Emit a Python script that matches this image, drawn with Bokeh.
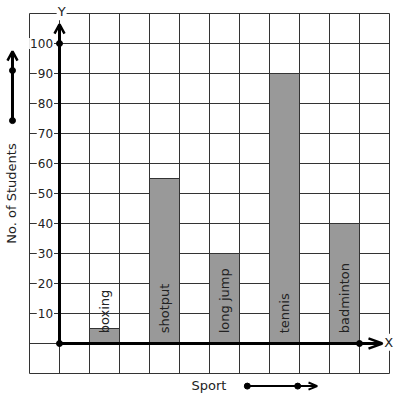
import math
from bokeh.plotting import figure
from bokeh.models import Range1d, ColumnDataSource
from bokeh.core.properties import value
from bokeh.embed import file_html
from bokeh.resources import INLINE

# ---- data ----
sports = ["boxing", "shotput", "long jump", "tennis", "badminton"]
students = [5, 55, 30, 90, 40]
y_ticks = [10, 20, 30, 40, 50, 60, 70, 80, 90, 100]
y_tick_labels = ["10", "20", "30", "40", "50", "60", "70", "80", "90", "100"]
x_title = "Sport"
y_title = "No. of Students"

FONT = value("DejaVu Sans")
GRID = "#333333"

p = figure(width=397, height=399, output_backend="svg", toolbar_location=None,
           x_range=Range1d(-59 / 30, -59 / 30 + 397 / 30),
           y_range=Range1d(-(399 - 343) / 3, 343 / 3),
           min_border=0)
p.axis.visible = False
p.grid.visible = False
p.outline_line_color = None
p.background_fill_color = "white"
p.border_fill_color = "white"

# graph-paper grid
gx = list(range(-1, 12))
gy = list(range(-10, 111, 10))
p.segment(x0=gx, y0=[-10] * len(gx), x1=gx, y1=[110] * len(gx),
          line_color=GRID, line_width=1)
p.segment(x0=[-1] * len(gy), y0=gy, x1=[11] * len(gy), y1=gy,
          line_color=GRID, line_width=1)

# bars
bar_x = [1.5 + 2 * i for i in range(len(sports))]
src = ColumnDataSource(dict(x=bar_x, top=students, name=sports))
p.vbar(x="x", top="top", bottom=0, width=1, source=src,
       fill_color="#999999", line_color="#333333", line_width=1)
p.text(x="x", y=3.4, text="name", source=src, angle=math.pi / 2,
       text_align="left", text_baseline="middle", text_font=FONT,
       text_font_size="13px", text_color="#222222")

# tick labels with white background
p.text(x=[-0.183] * len(y_ticks), y=y_ticks, text=y_tick_labels,
       text_align="right", text_baseline="middle", text_font=FONT,
       text_font_size="12px", text_color="#222222",
       background_fill_color="white", padding=1)

# axes with arrows
p.line([0, 0], [0, 106], line_color="black", line_width=3)
p.line([-0.167, 0, 0.167], [103.3, 106.4, 103.3], line_color="black", line_width=2.5)
p.line([0, 10.73], [0, 0], line_color="black", line_width=3)
p.line([10.3, 10.76, 10.3], [1.7, 0, -1.7], line_color="black", line_width=2.5)
p.scatter([0, 0, 10], [0, 100, 0], size=6, color="black")

# axis letters
p.text(x=[0.07], y=[110.6], text=["Y"], text_align="center", text_baseline="middle",
       text_font=FONT, text_font_size="13px", text_color="#222222",
       background_fill_color="white", padding=1)
p.text(x=[10.97], y=[0.4], text=["X"], text_align="center", text_baseline="middle",
       text_font=FONT, text_font_size="13px", text_color="#222222",
       background_fill_color="white", padding=1)

# y title with arrow
p.text(x=[-1.6], y=[50], text=[y_title], angle=math.pi / 2, text_align="center",
       text_baseline="middle", text_font=FONT, text_font_size="13px",
       text_color="#222222")
p.line([-1.567, -1.567], [74.3, 97.0], line_color="black", line_width=3)
p.line([-1.734, -1.567, -1.4], [94.3, 97.4, 94.3], line_color="black", line_width=2.5)
p.scatter([-1.567, -1.567], [74.3, 91], size=6, color="black")

# x title with arrow
p.text(x=[4.98], y=[-14.1], text=[x_title], text_align="center", text_baseline="middle",
       text_font=FONT, text_font_size="13px", text_color="#222222")
p.line([6.26, 8.57], [-14.2, -14.2], line_color="black", line_width=2)
p.line([8.3, 8.59, 8.3], [-13.0, -14.2, -15.4], line_color="black", line_width=2)
p.scatter([6.26, 7.94], [-14.2, -14.2], size=6, color="black")

open("out.html", "w").write(file_html(p, INLINE))
